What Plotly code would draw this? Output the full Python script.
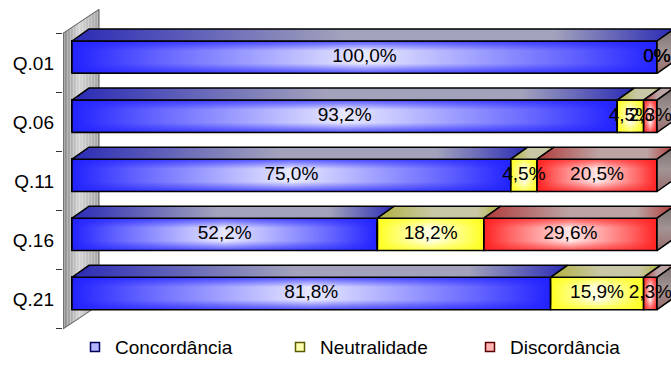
import plotly.graph_objects as go

# ---- data -------------------------------------------------------------
categories = ["Q.01", "Q.06", "Q.11", "Q.16", "Q.21"]
concordancia = [100.0, 93.2, 75.0, 52.2, 81.8]
neutralidade = [0.0, 4.5, 4.5, 18.2, 15.9]
discordancia = [0.0, 2.3, 20.5, 29.6, 2.3]
series_names = ["Concordância", "Neutralidade", "Discordância"]

# ---- styling -----------------------------------------------------------
FONT = "Liberation Sans, Arial, sans-serif"
styles = [
    dict(base="#2222ff", top_edge="#2a2ab6", top_mid="#a2a2bc",
         leg_fill="#b4b4ff", leg_line="#00005a"),
    dict(base="#ffff1e", top_edge="#b2b23e", top_mid="#c8c8a6",
         leg_fill="#ffffb0", leg_line="#5a5a00"),
    dict(base="#ff2222", top_edge="#b23a3a", top_mid="#bca4a4",
         leg_fill="#ffb4b4", leg_line="#5a0000"),
]
SIDE_SCALE = [[0.0, "#9a6c6c"], [0.5, "#a29494"], [1.0, "#7a7070"]]

# ---- layout geometry ---------------------------------------------------
W, H = 671, 385
M_L, M_R, M_T, M_B = 63, 0, 0, 50
X_RANGE = [-1.538, 102.39]
Y_RANGE = [4.607, -1.064]          # reversed: first category on top
px_x = (W - M_L - M_R) / (X_RANGE[1] - X_RANGE[0])
px_y = (H - M_T - M_B) / (Y_RANGE[0] - Y_RANGE[1])

DX = 17 / px_x        # 3-D depth offset along x
DY = 12 / px_y        # 3-D depth offset upwards
FACE_TOP, FACE_BOT = -0.37, 0.178   # front face extent around category centre
face_mid = (FACE_TOP + FACE_BOT) / 2

positions = list(range(len(categories)))
bar_pos = [p + face_mid for p in positions]
series = [concordancia, neutralidade, discordancia]


def rgba(hex_color, a):
    h = hex_color.lstrip("#")
    r, g, b = int(h[0:2], 16), int(h[2:4], 16), int(h[4:6], 16)
    return f"rgba({r},{g},{b},{a})"


fig = go.Figure()

# ---- flat bars (stacked) -------------------------------------------------
for name, vals, st in zip(series_names, series, styles):
    fig.add_trace(go.Bar(
        name=name, orientation="h", y=bar_pos, x=vals,
        width=FACE_BOT - FACE_TOP,
        marker=dict(color=st["base"], line=dict(color="black", width=1.5)),
        showlegend=False, hoverinfo="skip",
    ))

# cumulative bounds of every segment
bounds = []
for i in positions:
    acc = 0.0
    row = []
    for vals in series:
        row.append((acc, acc + vals[i]))
        acc += vals[i]
    bounds.append(row)


def poly(points):
    xs = [p[0] for p in points] + [points[0][0]]
    ys = [p[1] for p in points] + [points[0][1]]
    return xs, ys


# ---- front-face shading: horizontal shine + darker top/bottom rims -------
shine = [[0.0, "rgba(255,255,255,0)"], [0.15, "rgba(255,255,255,0.3)"],
         [0.5, "rgba(255,255,255,0.9)"], [0.85, "rgba(255,255,255,0.3)"],
         [1.0, "rgba(255,255,255,0)"]]
for i in positions:
    yt, yb = i + FACE_TOP, i + FACE_BOT
    for k, (x0, x1) in enumerate(bounds[i]):
        if x1 - x0 <= 0:
            continue
        base = styles[k]["base"]
        xs, ys = poly([(x0, yt), (x1, yt), (x1, yb), (x0, yb)])
        fig.add_trace(go.Scatter(
            x=xs, y=ys, mode="lines", fill="toself",
            fillgradient=dict(type="horizontal", colorscale=shine),
            line=dict(width=0), showlegend=False, hoverinfo="skip",
        ))
        fig.add_trace(go.Scatter(
            x=xs, y=ys, mode="lines", fill="toself",
            fillgradient=dict(type="vertical", colorscale=[
                [0.0, rgba(base, 0.75)], [0.3, rgba(base, 0.0)],
                [0.7, rgba(base, 0.0)], [1.0, rgba(base, 0.75)]]),
            line=dict(color="black", width=1.5),
            showlegend=False, hoverinfo="skip",
        ))

# ---- top faces -----------------------------------------------------------
for i in positions:
    yt = i + FACE_TOP
    for k, (x0, x1) in enumerate(bounds[i]):
        if x1 - x0 <= 0:
            continue
        st = styles[k]
        xs, ys = poly([(x0, yt), (x1, yt), (x1 + DX, yt - DY), (x0 + DX, yt - DY)])
        fig.add_trace(go.Scatter(
            x=xs, y=ys, mode="lines", fill="toself",
            fillgradient=dict(type="horizontal", colorscale=[
                [0.0, st["top_edge"]], [0.45, st["top_mid"]],
                [0.8, st["top_mid"]], [1.0, st["top_edge"]]]),
            line=dict(color="black", width=1.5),
            showlegend=False, hoverinfo="skip",
        ))

# ---- right-hand end faces -------------------------------------------------
for i in positions:
    yt, yb = i + FACE_TOP, i + FACE_BOT
    end = bounds[i][-1][1]
    xs, ys = poly([(end, yt), (end + DX, yt - DY), (end + DX, yb - DY), (end, yb)])
    fig.add_trace(go.Scatter(
        x=xs, y=ys, mode="lines", fill="toself",
        fillgradient=dict(type="vertical", colorscale=SIDE_SCALE),
        line=dict(color="black", width=1.5),
        showlegend=False, hoverinfo="skip",
    ))

# ---- value labels ----------------------------------------------------------
def fmt(v):
    return "0%" if v == 0 else f"{v:.1f}%".replace(".", ",")


lab_x, lab_y, lab_t = [], [], []
for i in positions:
    for k, (x0, x1) in enumerate(bounds[i]):
        lab_x.append((x0 + x1) / 2)
        lab_y.append(i + face_mid)
        lab_t.append(fmt(series[k][i]))
fig.add_trace(go.Scatter(
    x=lab_x, y=lab_y, text=lab_t, mode="text",
    textposition="middle center",
    textfont=dict(family=FONT, size=19, color="black"),
    cliponaxis=False, showlegend=False, hoverinfo="skip",
))

# ---- legend entries ----------------------------------------------------
legend_keys = ["legend", "legend2", "legend3"]
for name, st, lg in zip(series_names, styles, legend_keys):
    fig.add_trace(go.Scatter(
        x=[None], y=[None], mode="markers", name=name, legend=lg,
        marker=dict(symbol="square", size=9, color=st["leg_fill"],
                    line=dict(color=st["leg_line"], width=1.5)),
    ))

# ---- side wall (gradient built from thin strips) ----------------------
wall_w = 36 / px_x
wall_skew = 24 / px_y
wall_top, wall_bot = -0.5, 4.505
x_left = X_RANGE[0]
n_strips = 24


def gray_at(f):
    stops = [(0.0, 136), (0.45, 214), (1.0, 165)]
    for (a, ga), (b, gb) in zip(stops[:-1], stops[1:]):
        if a <= f <= b:
            g = ga + (gb - ga) * (f - a) / (b - a)
            return f"rgb({int(g)},{int(g)},{int(g)})"
    return "rgb(165,165,165)"


shapes = []
for s in range(n_strips):
    f0, f1 = s / n_strips, (s + 1) / n_strips
    xa, xb = x_left + f0 * wall_w, x_left + f1 * wall_w
    path = (f"M{xa},{wall_top - f0 * wall_skew} L{xb},{wall_top - f1 * wall_skew} "
            f"L{xb},{wall_bot - f1 * wall_skew} L{xa},{wall_bot - f0 * wall_skew} Z")
    shapes.append(dict(type="path", path=path, xref="x", yref="y", layer="below",
                       fillcolor=gray_at((f0 + f1) / 2), line=dict(width=0)))
xr = x_left + wall_w
shapes.append(dict(
    type="path", xref="x", yref="y", layer="below",
    path=(f"M{x_left},{wall_top} L{xr},{wall_top - wall_skew} L{xr},{wall_bot - wall_skew} "
          f"L{x_left},{wall_bot} Z"),
    line=dict(color="#5a5a5a", width=1), fillcolor="rgba(0,0,0,0)"))

legend_common = dict(orientation="h", yanchor="middle", y=-0.036, xanchor="left",
                     bgcolor="rgba(0,0,0,0)", font=dict(family=FONT, size=19, color="black"),
                     itemclick=False, itemdoubleclick=False)

fig.update_layout(
    width=W, height=H,
    margin=dict(l=M_L, r=M_R, t=M_T, b=M_B, pad=0),
    paper_bgcolor="white", plot_bgcolor="white",
    barmode="stack", bargap=0,
    shapes=shapes,
    font=dict(family=FONT, size=19, color="black"),
    xaxis=dict(range=X_RANGE, showgrid=False, zeroline=False, showticklabels=False,
               ticks="", showline=False, fixedrange=True),
    yaxis=dict(range=Y_RANGE, showgrid=False, zeroline=False, showline=False,
               tickmode="array", tickvals=positions, ticktext=categories,
               ticks="", ticklabelstandoff=8,
               tickfont=dict(family=FONT, size=19, color="black"),
               minor=dict(tickmode="array", tickvals=[p - 0.5 for p in positions] + [positions[-1] + 0.5],
                          ticks="outside", ticklen=6, tickwidth=1, tickcolor="#333"),
               fixedrange=True),
    legend=dict(x=(75 - M_L) / (W - M_L), **legend_common),
    legend2=dict(x=(280 - M_L) / (W - M_L), **legend_common),
    legend3=dict(x=(470 - M_L) / (W - M_L), **legend_common),
)

fig.write_html("out.html")
